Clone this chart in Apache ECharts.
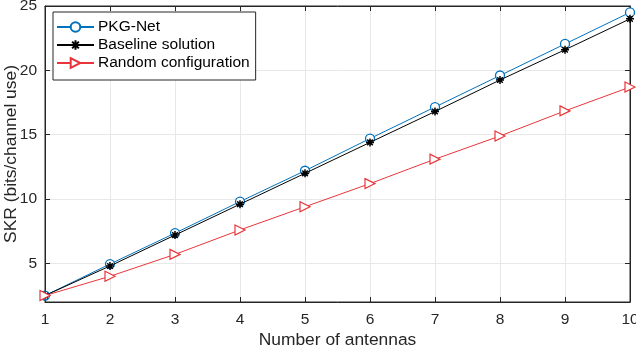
<!DOCTYPE html>
<html>
<head>
<meta charset="utf-8">
<script src="https://cdn.jsdelivr.net/npm/echarts@6/dist/echarts.min.js"></script>
<style>
  html, body { margin: 0; padding: 0; background: #fff; }
  #main { width: 636px; height: 348px; }
</style>
</head>
<body>
<div id="main"></div>
<script>
  // 数据
  var antennas = [1, 2, 3, 4, 5, 6, 7, 8, 9, 10];
  var pkgNet = [2.5, 4.95, 7.35, 9.8, 12.2, 14.7, 17.15, 19.6, 22.05, 24.5];
  var baseline = [2.5, 4.8, 7.2, 9.6, 12.0, 14.4, 16.8, 19.25, 21.6, 24.0];
  var randomCfg = [2.5, 4.0, 5.7, 7.6, 9.4, 11.2, 13.1, 14.9, 16.85, 18.7];
  var yTicks = [5, 10, 15, 20, 25];

  function pairs(ys) {
    return antennas.map(function (x, i) { return [x, ys[i]]; });
  }

  var axisColor = '#262626';
  var fontFamily = '"Liberation Sans", Arial, Helvetica, sans-serif';
  var starPath = 'path://M5,0L5,10M0,5L10,5M1.5,1.5L8.5,8.5M1.5,8.5L8.5,1.5';
  var triPath = 'path://M0,0L10,5L0,10Z';

  var myChart = echarts.init(document.getElementById('main'));
  var option = {
    animation: false,
    textStyle: { fontFamily: fontFamily },
    grid: {
      left: 45, right: 6, top: 6, bottom: 46,
      outerBoundsMode: 'none',
      containLabel: false,
      show: true, borderColor: axisColor, borderWidth: 1
    },
    legend: {
      orient: 'vertical',
      left: 53,
      top: 12,
      padding: [7, 6, 9, 3],
      itemWidth: 37,
      itemHeight: 12,
      itemGap: 2,
      borderColor: axisColor,
      borderWidth: 1,
      backgroundColor: '#fff',
      textStyle: { fontSize: 15.5, lineHeight: 14, color: '#000', fontFamily: fontFamily, padding: [0, 0, 0, -1] },
      data: ['PKG-Net', 'Baseline solution', 'Random configuration']
    },
    xAxis: [
      {
        type: 'value',
        min: 1,
        max: 10,
        interval: 1,
        name: 'Number of antennas',
        nameLocation: 'middle',
        nameGap: 30,
        nameMoveOverlap: false,
        nameTextStyle: { fontSize: 17.4, color: axisColor },
        axisLine: { lineStyle: { color: axisColor } },
        axisTick: { inside: true, length: 5, lineStyle: { color: axisColor } },
        axisLabel: { fontSize: 15.5, color: axisColor, margin: 10 },
        splitLine: { show: true, lineStyle: { color: '#e8e8e8' } }
      },
      {
        type: 'value',
        position: 'top',
        min: 1,
        max: 10,
        interval: 1,
        axisLine: { lineStyle: { color: axisColor } },
        axisTick: { inside: true, length: 5, lineStyle: { color: axisColor } },
        axisLabel: { show: false },
        splitLine: { show: false }
      }
    ],
    yAxis: [
      {
        type: 'value',
        min: 2,
        max: 25,
        name: 'SKR (bits/channel use)',
        nameLocation: 'middle',
        nameGap: 25,
        nameMoveOverlap: false,
        nameTextStyle: { fontSize: 17.4, color: axisColor },
        axisLine: { show: true, lineStyle: { color: axisColor } },
        axisTick: { show: true, inside: true, length: 5, customValues: yTicks, lineStyle: { color: axisColor } },
        axisLabel: { fontSize: 15.5, color: axisColor, margin: 8, customValues: yTicks },
        splitLine: { show: true, lineStyle: { color: '#e8e8e8' } }
      },
      {
        type: 'value',
        position: 'right',
        min: 2,
        max: 25,
        axisLine: { show: true, lineStyle: { color: axisColor } },
        axisTick: { show: true, inside: true, length: 5, customValues: yTicks, lineStyle: { color: axisColor } },
        axisLabel: { show: false },
        splitLine: { show: false }
      }
    ],
    series: [
      {
        name: 'PKG-Net',
        type: 'line',
        data: pairs(pkgNet),
        symbol: 'circle',
        symbolSize: 9,
        showAllSymbol: true,
        lineStyle: { color: '#0072BD', width: 1 },
        itemStyle: { color: '#fff', borderColor: '#0072BD', borderWidth: 1.3 },
        z: 3
      },
      {
        name: 'Baseline solution',
        type: 'line',
        data: pairs(baseline),
        symbol: starPath,
        symbolSize: 8,
        showAllSymbol: true,
        lineStyle: { color: '#000', width: 1 },
        itemStyle: { color: '#000', borderColor: '#000', borderWidth: 1.5 },
        z: 4
      },
      {
        name: 'Random configuration',
        type: 'line',
        data: pairs(randomCfg),
        symbol: triPath,
        symbolSize: 10,
        showAllSymbol: true,
        lineStyle: { color: '#E8353A', width: 1 },
        itemStyle: { color: '#fff', borderColor: '#E8353A', borderWidth: 1.2 },
        z: 5
      }
    ]
  };
  myChart.setOption(option);
</script>
</body>
</html>
